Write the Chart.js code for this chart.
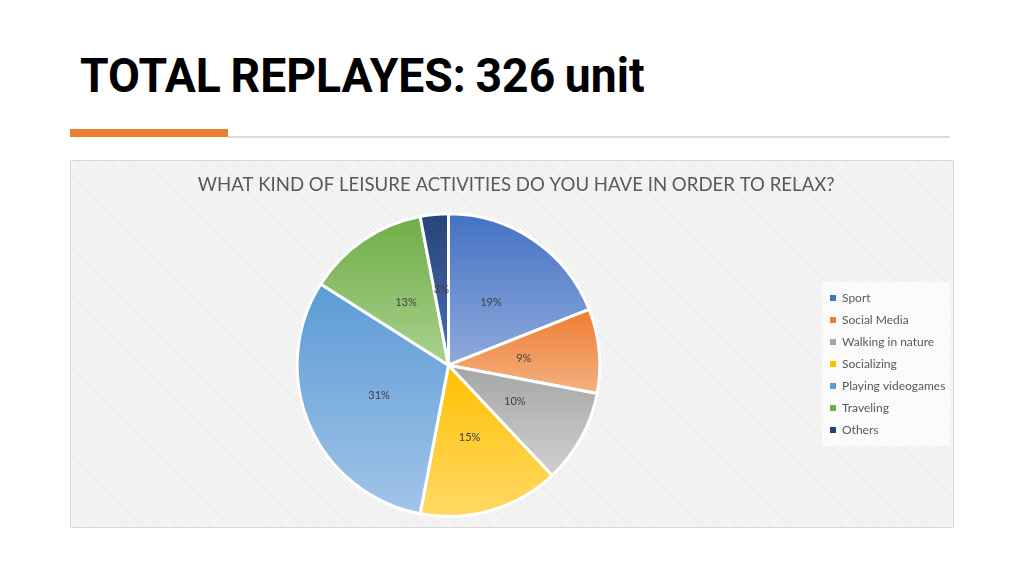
<!DOCTYPE html>
<html>
<head>
<meta charset="utf-8">
<script src="https://cdn.jsdelivr.net/npm/chart.js@4.4.0/dist/chart.umd.min.js"></script>
<style>
body{margin:0;width:1024px;height:576px;background:#fff;position:relative;overflow:hidden}
#head{position:absolute;left:80px;top:51px;font-family:Roboto,sans-serif;font-weight:700;font-size:49px;line-height:1;color:#000;transform-origin:0 0;white-space:nowrap;word-spacing:-2px}
#bar{position:absolute;left:70px;top:129px;width:158px;height:8px;background:#ea7e33}
#rule{position:absolute;left:228px;top:136px;width:722px;height:2px;background:#d9d9d9}
#box{position:absolute;left:70px;top:160px;width:884px;height:368px;box-sizing:border-box;border:1px solid #d9d9d9;
  background:repeating-linear-gradient(45deg,#f5f5f5 0 2px,#ececec 2px 3px)}
#wrap{position:absolute;left:70px;top:160px;width:884px;height:368px}
</style>
</head>
<body>
<div id="head">TOTAL REPLAYES: 326 unit</div>
<div id="bar"></div>
<div id="rule"></div>
<div id="box"></div>
<div id="wrap"><canvas id="pie"></canvas></div>
<script>
const categories = ['Sport', 'Social Media', 'Walking in nature', 'Socializing', 'Playing videogames', 'Traveling', 'Others']
const percents = [19, 9, 10, 15, 31, 13, 3]
const chartTitle = 'WHAT KIND OF LEISURE ACTIVITIES DO YOU HAVE IN ORDER TO RELAX?'

const darkColors = ['#4472c4', '#ed7d31', '#a5a5a5', '#ffc000', '#5b9bd5', '#70ad47', '#264478']
const lightColors = ['#8faadc', '#f4b183', '#d0d0d0', '#ffd966', '#a2c4e8', '#a9d18e', '#4d70b3']

// squeeze the heading into the condensed look of the slide
const head = document.getElementById('head')
head.style.transform = `scaleX(${565 / head.offsetWidth})`

const fontFam = 'Lato, "Liberation Sans", sans-serif'
const legendFont = 12
const borderW = 3

// legend placed so its boxes start near x=760 in the canvas
const mctx = document.createElement('canvas').getContext('2d')
mctx.font = `${legendFont}px ${fontFam}`
let widest = 0
categories.forEach(c => { widest = Math.max(widest, mctx.measureText(c).width) })
const legendLeft = 760
const padRight = 884 - legendLeft - (10 + 6 + legendFont / 2 + widest)

// vertical gradient for each slice, worked out from the data and the chart area
function sliceFill(context) {
    const chart = context.chart
    const area = chart.chartArea
    const i = context.dataIndex
    if (!area) return darkColors[i]
    const cx = (area.left + area.right) / 2
    const cy = (area.top + area.bottom) / 2
    const r = (Math.min(area.width, area.height) - borderW) / 2
    const total = percents.reduce((a, b) => a + b, 0)
    let start = -Math.PI / 2
    for (let k = 0; k < i; k++) start += percents[k] / total * Math.PI * 2
    const end = start + percents[i] / total * Math.PI * 2
    let ymin = cy, ymax = cy
    for (let s = 0; s <= 40; s++) {
        const a = start + (end - start) * s / 40
        const y = cy + r * Math.sin(a)
        ymin = Math.min(ymin, y)
        ymax = Math.max(ymax, y)
    }
    const g = chart.ctx.createLinearGradient(0, ymin, 0, ymax)
    g.addColorStop(0, darkColors[i])
    g.addColorStop(1, lightColors[i])
    return g
}

const legendBack = {
    id: 'legendBack',
    beforeDraw(chart) {
        const boxes = chart.legend.legendHitBoxes
        if (!boxes || !boxes.length) return
        const l = boxes[0].left - 8
        const t = boxes[0].top - 10
        const last = boxes[boxes.length - 1]
        let r = 0
        boxes.forEach(b => { r = Math.max(r, b.left + b.width) })
        const c = chart.ctx
        c.save()
        c.fillStyle = 'rgba(255,255,255,0.65)'
        c.fillRect(l, t, r + 5 - l, last.top + last.height + 10 - t)
        c.restore()
    }
}

const sliceLabels = {
    id: 'sliceLabels',
    afterDatasetsDraw(chart) {
        const c = chart.ctx
        const meta = chart.getDatasetMeta(0)
        c.save()
        c.font = `11px ${fontFam}`
        c.fillStyle = '#404040'
        c.textAlign = 'center'
        c.textBaseline = 'middle'
        meta.data.forEach((arc, i) => {
            const p = arc.tooltipPosition()
            c.fillText(percents[i] + '%', p.x, p.y)
        })
        c.restore()
    }
}

new Chart(document.getElementById('pie'), {
    type: 'pie',
    data: {
        labels: categories,
        datasets: [{
            data: percents,
            backgroundColor: sliceFill,
            borderColor: '#ffffff',
            borderWidth: borderW
        }]
    },
    options: {
        responsive: true,
        maintainAspectRatio: false,
        animation: false,
        layout: { padding: { left: 7, right: padRight, bottom: 10, top: 0 } },
        plugins: {
            title: {
                display: true,
                text: chartTitle,
                color: '#595959',
                font: { family: fontFam, size: 18.6, weight: 'normal' },
                padding: { top: 14, bottom: 16 }
            },
            legend: {
                position: 'right',
                align: 'center',
                title: { display: true, text: '', font: { size: 10 }, padding: { top: 38, bottom: 0 } },
                labels: {
                    boxWidth: 6,
                    boxHeight: 6,
                    padding: 10,
                    color: '#595959',
                    font: { family: fontFam, size: legendFont },
                    generateLabels(chart) {
                        const items = Chart.overrides.pie.plugins.legend.labels.generateLabels(chart)
                        items.forEach((it, i) => {
                            it.fillStyle = darkColors[i]
                            it.strokeStyle = darkColors[i]
                            it.lineWidth = 0
                        })
                        return items
                    }
                }
            },
            tooltip: { enabled: false }
        }
    },
    plugins: [legendBack, sliceLabels]
})
</script>
</body>
</html>
